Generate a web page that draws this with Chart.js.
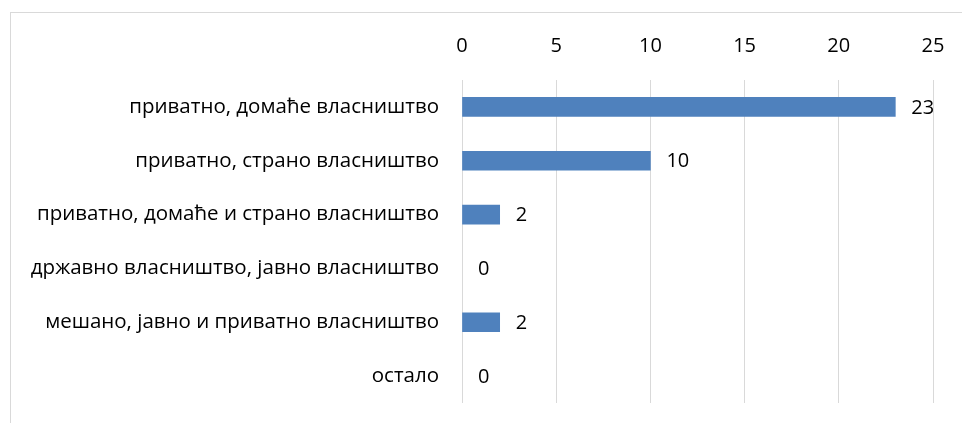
<!DOCTYPE html>
<html>
<head>
<meta charset="utf-8">
<script src="https://cdn.jsdelivr.net/npm/chart.js@4.4.0/dist/chart.umd.min.js"></script>
<style>
  html, body { margin: 0; padding: 0; background: #fff; overflow: hidden; }
  #frame { position: absolute; left: 10px; top: 12px; width: 1000px; height: 500px; border: 1px solid #d9d9d9; }
  #wrap { position: absolute; left: 0; top: 0; width: 962px; height: 423px; }
</style>
</head>
<body>
<div id="frame"></div>
<div id="wrap"><canvas id="ownershipChart"></canvas></div>
<script>
var categories = [
  'приватно, домаће власништво',
  'приватно, страно власништво',
  'приватно, домаће и страно власништво',
  'државно власништво, јавно власништво',
  'мешано, јавно и приватно власништво',
  'остало'
];
var counts = [23, 10, 2, 0, 2, 0];
var axisMax = 25;
var axisStep = 5;

// value labels to the right of each bar
var barLabels = {
  id: 'barLabels',
  afterDatasetsDraw: function (chart) {
    var ctx = chart.ctx;
    var meta = chart.getDatasetMeta(0);
    ctx.save();
    ctx.font = '20px "Open Sans"';
    ctx.fillStyle = '#000';
    ctx.textBaseline = 'middle';
    ctx.textAlign = 'left';
    meta.data.forEach(function (bar, i) {
      ctx.fillText(String(counts[i]), bar.x + 16, bar.y + 1);
    });
    ctx.restore();
  }
};

document.addEventListener('DOMContentLoaded', function () {
  var ctx = document.getElementById('ownershipChart').getContext('2d');
  new Chart(ctx, {
    type: 'bar',
    data: {
      labels: categories,
      datasets: [{
        data: counts,
        backgroundColor: counts.map(function (v) { return v > 0 ? '#4f81bd' : 'rgba(0,0,0,0)'; }),
        borderWidth: 0,
        barThickness: 19
      }]
    },
    options: {
      indexAxis: 'y',
      responsive: true,
      maintainAspectRatio: false,
      animation: false,
      layout: { padding: { left: 0, right: 29, top: 30, bottom: 20 } },
      plugins: {
        legend: { display: false },
        tooltip: { enabled: false }
      },
      scales: {
        x: {
          position: 'top',
          min: 0,
          max: axisMax,
          ticks: {
            stepSize: axisStep,
            color: '#000',
            font: { family: 'Open Sans', size: 20 },
            padding: 22
          },
          grid: { color: '#d9d9d9', drawTicks: false },
          border: { display: false },
          afterFit: function (scale) {
            scale.height = 50;
            scale.paddingLeft = 0;
            scale.paddingRight = 0;
          }
        },
        y: {
          ticks: {
            color: '#000',
            font: { family: 'Open Sans', size: 20.5 },
            padding: 15
          },
          grid: { display: false },
          border: { display: false },
          afterFit: function (scale) {
            scale.width = 462;
            scale.paddingTop = 0;
            scale.paddingBottom = 0;
          }
        }
      }
    },
    plugins: [barLabels]
  });
});
</script>
</body>
</html>
